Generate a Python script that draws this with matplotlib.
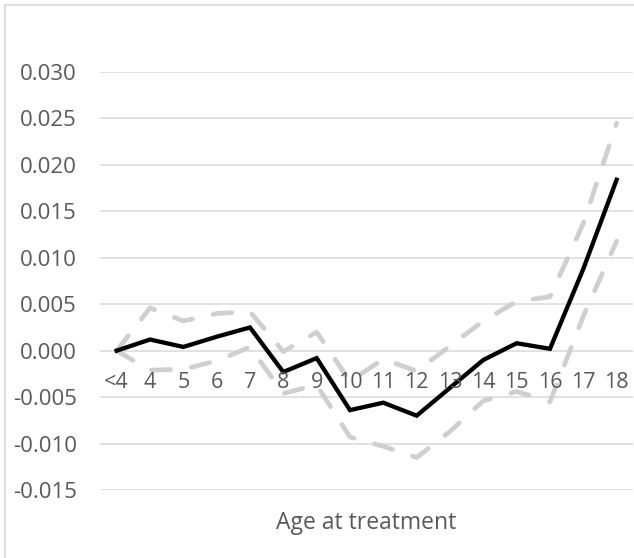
import matplotlib
matplotlib.use('Agg')
import matplotlib.pyplot as plt
import numpy as np

# Age groups on the category axis
ages = ['<4', '4', '5', '6', '7', '8', '9', '10', '11', '12', '13', '14', '15', '16', '17', '18']

# Point estimate and the two bounds
estimate = [0.0, 0.0012, 0.0004, 0.0015, 0.0025, -0.0023, -0.0008, -0.0064, -0.0056, -0.0070,
            -0.0040, -0.0010, 0.0008, 0.0002, 0.0088, 0.0184]
upper = [0.0, 0.0046, 0.0032, 0.0040, 0.0042, -0.0001, 0.0020, -0.0033, -0.0009, -0.0022,
         0.0005, 0.0032, 0.0053, 0.0058, 0.0137, 0.0245]
lower = [0.0, -0.0021, -0.0020, -0.0011, 0.0004, -0.0046, -0.0037, -0.0093, -0.0103, -0.0115,
         -0.0087, -0.0054, -0.0044, -0.0055, 0.0037, 0.0118]

yticks = [-0.015, -0.010, -0.005, 0.000, 0.005, 0.010, 0.015, 0.020, 0.025, 0.030]

plt.rcParams['font.family'] = ['Open Sans', 'DejaVu Sans']
W, H = 634, 558
fig = plt.figure(figsize=(W / 100, H / 100), dpi=100)
ax = fig.add_axes([100 / W, 1 - 490 / H, 533.3 / W, 418 / H])

x = np.arange(len(ages))
grey = '#cfcfcf'
for band in (upper, lower):
    ax.plot(x, band, color=grey, lw=3.4, dashes=(4, 4.5),
            dash_capstyle='round', solid_joinstyle='round', zorder=2)
ax.plot(x, estimate, color='black', lw=3.1, solid_joinstyle='miter', zorder=3)

ax.set_xlim(-0.5, len(ages) - 0.5)
ax.set_ylim(-0.015, 0.030)
ax.set_yticks(yticks)
ax.set_yticklabels(['{:.3f}'.format(v) for v in yticks])
ax.set_xticks([])
ax.tick_params(axis='y', length=0, pad=16.5, labelsize=16, labelcolor='#595959')
ax.yaxis.grid(True, color='#d9d9d9', lw=1.1)
ax.set_axisbelow(True)
for s in ax.spines.values():
    s.set_visible(False)

# category labels sit next to the axis at zero
for i, lab in enumerate(ages):
    ax.annotate(lab, xy=(i, 0), xytext=(0, -32), textcoords='offset pixels',
                ha='center', va='center', fontsize=15.5, color='#595959')

fig.text(366.5 / W, 1 - 523 / H, 'Age at treatment', ha='center', va='center',
         fontsize=16.5, color='#595959')

# chart area border
fig.patches.append(plt.Rectangle((5 / W, -0.05), 1.1, 1 - 5 / H + 0.05, transform=fig.transFigure,
                                 fill=False, edgecolor='#d9d9d9', lw=1.2))

fig.savefig('out.png', dpi=100)
